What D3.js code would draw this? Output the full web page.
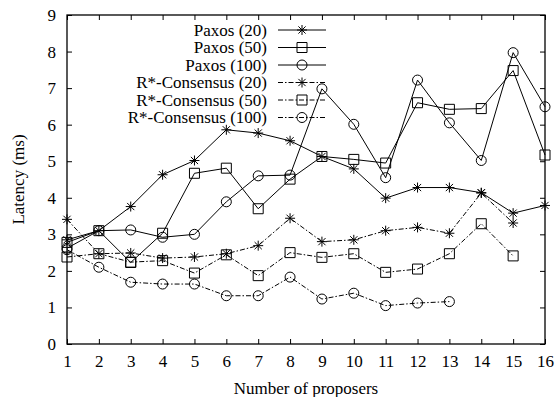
<!DOCTYPE html>
<html>
<head>
<meta charset="utf-8">
<script src="https://cdn.jsdelivr.net/npm/d3@7/dist/d3.min.js"></script>
<style>
  html, body { margin: 0; padding: 0; background: #fff; }
  svg { display: block; }
</style>
</head>
<body>
<svg id="chart" width="558" height="397"></svg>
<script>
const proposers = [1, 2, 3, 4, 5, 6, 7, 8, 9, 10, 11, 12, 13, 14, 15, 16];
const xTicks = [1, 2, 3, 4, 5, 6, 7, 8, 9, 10, 11, 12, 13, 14, 15, 16];
const yTicks = [0, 1, 2, 3, 4, 5, 6, 7, 8, 9];

const paxos20  = [2.85, 3.10, 3.76, 4.63, 5.02, 5.86, 5.77, 5.56, 5.13, 4.79, 3.99, 4.28, 4.28, 4.14, 3.58, 3.79];
const paxos50  = [2.78, 3.10, 2.23, 3.03, 4.67, 4.81, 3.70, 4.51, 5.13, 5.05, 4.95, 6.60, 6.42, 6.44, 7.48, 5.17];
const paxos100 = [2.62, 3.10, 3.12, 2.92, 3.00, 3.89, 4.60, 4.62, 6.98, 6.01, 4.55, 7.22, 6.05, 5.02, 7.97, 6.49];
const rstar20  = [3.41, 2.47, 2.49, 2.35, 2.38, 2.47, 2.69, 3.44, 2.80, 2.85, 3.10, 3.19, 3.03, 4.13, 3.31];
const rstar50  = [2.38, 2.47, 2.24, 2.28, 1.94, 2.44, 1.87, 2.50, 2.37, 2.47, 1.96, 2.05, 2.47, 3.29, 2.41];
const rstar100 = [2.58, 2.10, 1.69, 1.64, 1.64, 1.32, 1.32, 1.83, 1.23, 1.39, 1.05, 1.12, 1.16];

const seriesNames = ["Paxos (20)", "Paxos (50)", "Paxos (100)", "R*-Consensus (20)", "R*-Consensus (50)", "R*-Consensus (100)"];
const seriesValues = [paxos20, paxos50, paxos100, rstar20, rstar50, rstar100];
const seriesMarker = ["star", "square", "circle", "star", "square", "circle"];
const seriesDash = [null, null, null, "5,2,1.5,2", "5,2,1.5,2", "5,2,1.5,2"];

const FONT = '"Liberation Serif", "Times New Roman", serif';
const fs = 17;

const svg = d3.select("#chart");
const L = 67, R = 545, T = 15, B = 344;
const x = d3.scaleLinear().domain([1, 16]).range([L, R]);
const y = d3.scaleLinear().domain([0, 9]).range([B, T]);

// axis titles first
svg.append("text").attr("x", (L + R) / 2).attr("y", 394).attr("text-anchor", "middle")
  .attr("font-family", FONT).attr("font-size", fs).attr("fill", "#000").text("Number of proposers");
svg.append("text").attr("transform", `translate(24,${(T + B) / 2}) rotate(-90)`).attr("text-anchor", "middle")
  .attr("font-family", FONT).attr("font-size", fs).attr("fill", "#000").text("Latency (ms)");

// ticks (inward, mirrored)
const tickLen = 5;
const axB = svg.append("g").attr("transform", `translate(0,${B})`)
  .call(d3.axisBottom(x).tickValues(xTicks).tickSize(-tickLen).tickPadding(11).tickFormat(d3.format("d")));
const axT = svg.append("g").attr("transform", `translate(0,${T})`)
  .call(d3.axisTop(x).tickValues(xTicks).tickSize(-tickLen).tickFormat(""));
const axL = svg.append("g").attr("transform", `translate(${L},0)`)
  .call(d3.axisLeft(y).tickValues(yTicks).tickSize(-tickLen).tickPadding(11).tickFormat(d3.format("d")));
const axR = svg.append("g").attr("transform", `translate(${R},0)`)
  .call(d3.axisRight(y).tickValues(yTicks).tickSize(-tickLen).tickFormat(""));
[axB, axT, axL, axR].forEach(g => {
  g.attr("font-family", FONT).attr("font-size", fs);
  g.select(".domain").remove();
  g.selectAll(".tick line").attr("stroke", "#000").attr("stroke-width", 1);
  g.selectAll(".tick text").attr("fill", "#000").attr("font-family", FONT).attr("font-size", fs);
});

// frame
svg.append("rect").attr("x", L).attr("y", T).attr("width", R - L).attr("height", B - T)
  .attr("fill", "none").attr("stroke", "#000").attr("stroke-width", 1.3);

function markerPath(type) {
  if (type === "star") return "M-5,0H5M0,-5V5M-3.6,-3.6L3.6,3.6M-3.6,3.6L3.6,-3.6";
  if (type === "square") return "M-5,-5H5V5H-5Z";
  return d3.arc()({innerRadius: 0, outerRadius: 5, startAngle: 0, endAngle: 2 * Math.PI});
}

const line = d3.line().x((d, i) => x(proposers[i])).y(d => y(d));

seriesValues.forEach((vals, k) => {
  const g = svg.append("g");
  g.append("path").attr("d", line(vals)).attr("fill", "none").attr("stroke", "#000")
    .attr("stroke-width", 1).attr("stroke-dasharray", seriesDash[k]);
  g.selectAll("path.m").data(vals).enter().append("path").attr("class", "m")
    .attr("transform", (d, i) => `translate(${x(proposers[i])},${y(d)})`)
    .attr("d", markerPath(seriesMarker[k]))
    .attr("fill", "none").attr("stroke", "#000").attr("stroke-width", 1);
});

// legend
const legX = 267, legY0 = 30, legDy = 17.5;
seriesNames.forEach((name, k) => {
  const yy = legY0 + k * legDy;
  svg.append("text").attr("x", legX).attr("y", yy).attr("dy", "0.34em").attr("text-anchor", "end")
    .attr("font-family", FONT).attr("font-size", fs).attr("fill", "#000").text(name);
  svg.append("line").attr("x1", 278).attr("x2", 326).attr("y1", yy).attr("y2", yy)
    .attr("stroke", "#000").attr("stroke-width", 1).attr("stroke-dasharray", seriesDash[k]);
  svg.append("path").attr("transform", `translate(302,${yy})`).attr("d", markerPath(seriesMarker[k]))
    .attr("fill", "none").attr("stroke", "#000").attr("stroke-width", 1);
});
</script>
</body>
</html>
